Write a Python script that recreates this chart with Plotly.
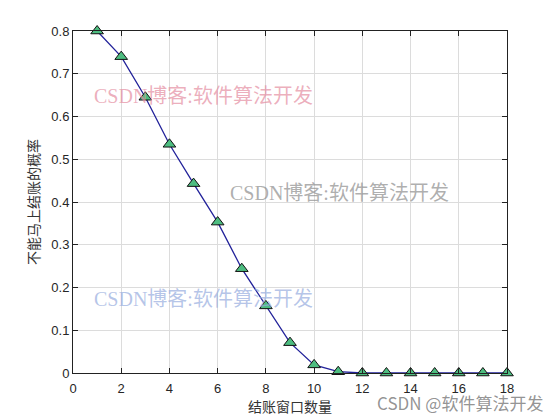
import plotly.graph_objects as go

# Data
windows = [1, 2, 3, 4, 5, 6, 7, 8, 9, 10, 11, 12, 13, 14, 15, 16, 17, 18]
prob = [0.80, 0.74, 0.645, 0.535, 0.443, 0.353, 0.244, 0.157, 0.071, 0.019, 0.003,
        0.0, 0.0, 0.0, 0.0, 0.0, 0.0, 0.0]
x_ticks = [0, 2, 4, 6, 8, 10, 12, 14, 16, 18]
y_ticks = [0, 0.1, 0.2, 0.3, 0.4, 0.5, 0.6, 0.7, 0.8]
x_title = "结账窗口数量"
y_title = "不能马上结账的概率"
watermark = "CSDN博客:软件算法开发"
footer = "CSDN @软件算法开发"

fig = go.Figure()
fig.add_trace(go.Scatter(
    x=windows, y=prob, mode="lines+markers",
    line=dict(color="#22229a", width=1.3),
    marker=dict(symbol="triangle-up", size=11, color="#4dbd80",
                line=dict(color="#111111", width=1)),
    cliponaxis=False, showlegend=False,
))

axis_common = dict(
    showline=True, linecolor="#222222", linewidth=1, mirror="ticks",
    ticks="inside", ticklen=5, tickcolor="#222222",
    showgrid=True, gridcolor="#dcdcdc", gridwidth=1, zeroline=False,
    automargin=False,
    tickfont=dict(family="Liberation Sans, Arial", size=13, color="#262626"),
)

fig.update_xaxes(range=[0, 18], tickvals=x_ticks, ticklabelstandoff=3, **axis_common,
                 title=dict(text=x_title, standoff=6,
                            font=dict(family="Noto Sans CJK SC", size=14, color="#333333")))
fig.update_yaxes(range=[0, 0.8], **axis_common,
                 title=dict(text=y_title, standoff=8,
                            font=dict(family="Noto Sans CJK SC", size=14, color="#333333")))
fig.update_yaxes(tickvals=y_ticks, ticktext=["0"] + [f"{v:.1f}" for v in y_ticks[1:]])

wm_font = "Liberation Serif, Noto Sans CJK SC"
annos = [
    dict(text=watermark, x=0.044, y=0.81, color="rgba(228,140,160,0.7)"),
    dict(text=watermark, x=0.357, y=0.526, color="rgba(140,140,140,0.7)"),
    dict(text=watermark, x=0.044, y=0.216, color="rgba(150,172,222,0.7)"),
]
for a in annos:
    fig.add_annotation(text=a["text"], x=a["x"], y=a["y"], xref="paper", yref="paper",
                       xanchor="left", yanchor="middle", showarrow=False,
                       font=dict(family=wm_font, size=20, color=a["color"]))
fig.add_annotation(text=footer, x=1.0876, y=-0.085, xref="paper", yref="paper",
                   xanchor="right", yanchor="middle", showarrow=False,
                   font=dict(family="Noto Sans CJK SC", size=17, color="rgba(120,120,120,0.8)"))

# page body adds an 8px margin, so the figure is 552x412 and offsets are reduced
fig.update_layout(
    width=552, height=412,
    margin=dict(l=65, r=53, t=23, b=47),
    plot_bgcolor="white", paper_bgcolor="white",
)

fig.write_html("out.html")
